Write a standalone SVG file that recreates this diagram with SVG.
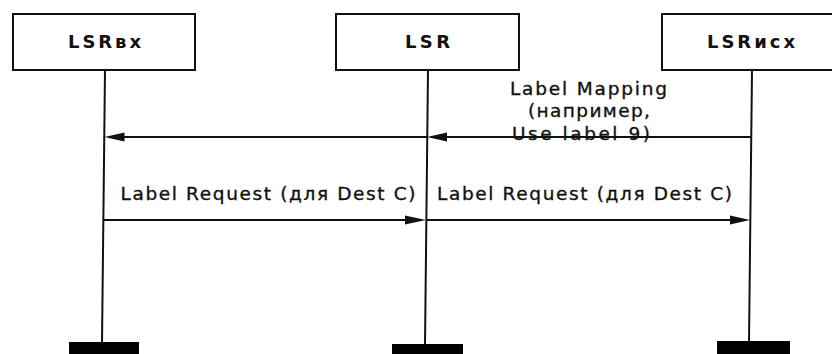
<svg xmlns="http://www.w3.org/2000/svg" width="832" height="354" viewBox="0 0 832 354">
  <style>
    .box { fill: #ffffff; stroke: #111111; stroke-width: 2; }
    .life { stroke: #111111; stroke-width: 2; fill: none; }
    .bar { fill: #000000; }
    .name { font-family: "DejaVu Sans", "Liberation Sans", sans-serif; font-size: 18px; font-weight: bold; fill: #111111; text-anchor: middle; }
    .msg { font-family: "DejaVu Sans", "Liberation Sans", sans-serif; font-size: 18.5px; fill: #111111; stroke: #111111; stroke-width: 0.35; }
    .arrow { stroke: #111111; stroke-width: 1.8; fill: none; }
    .head { fill: #111111; }
  </style>

  <rect width="832" height="354" fill="#ffffff"/>

  <!-- participants -->
  <g id="lsr-in">
    <rect class="box" x="13" y="14" width="182" height="56"/>
    <text class="name" x="104.5" y="48" textLength="73" lengthAdjust="spacing">LSRвх</text>
    <line class="life" x1="105" y1="70" x2="102" y2="343"/>
    <rect class="bar" x="69" y="342" width="70" height="14"/>
  </g>

  <g id="lsr">
    <rect class="box" x="336" y="14" width="183" height="56"/>
    <text class="name" x="427.5" y="48" textLength="45" lengthAdjust="spacing">LSR</text>
    <line class="life" x1="428" y1="70" x2="425" y2="345"/>
    <rect class="bar" x="392" y="344" width="71" height="12"/>
  </g>

  <g id="lsr-out">
    <rect class="box" x="662" y="14" width="183" height="56"/>
    <text class="name" x="751" y="48" textLength="88" lengthAdjust="spacing">LSRисх</text>
    <line class="life" x1="752" y1="70" x2="749" y2="342"/>
    <rect class="bar" x="717" y="341" width="73" height="15"/>
  </g>

  <!-- messages -->
  <g id="connectors">
    <!-- Label Mapping: egress -> LSR -> ingress -->
    <line class="arrow" x1="752" y1="137" x2="440" y2="137"/>
    <polygon class="head" points="427,137 447,132.5 447,141.5"/>
    <line class="arrow" x1="427" y1="137" x2="118" y2="137"/>
    <polygon class="head" points="104.5,137 124.5,132.5 124.5,141.5"/>

    <!-- Label Request: ingress -> LSR -> egress -->
    <line class="arrow" x1="104" y1="220" x2="412" y2="220"/>
    <polygon class="head" points="426,220 405,215.5 405,224.5"/>
    <line class="arrow" x1="427" y1="220" x2="737" y2="220"/>
    <polygon class="head" points="750,220 730,215.5 730,224.5"/>
  </g>

  <g id="labels">
    <text class="msg" x="510" y="95" textLength="157" lengthAdjust="spacing">Label Mapping</text>
    <text class="msg" x="528" y="117" textLength="122" lengthAdjust="spacing">(например,</text>
    <text class="msg" x="512" y="140" textLength="138" lengthAdjust="spacing">Use label 9)</text>
    <text class="msg" x="120.5" y="200" textLength="295" lengthAdjust="spacing">Label Request (для Dest C)</text>
    <text class="msg" x="437" y="200" textLength="295" lengthAdjust="spacing">Label Request (для Dest C)</text>
  </g>
</svg>
